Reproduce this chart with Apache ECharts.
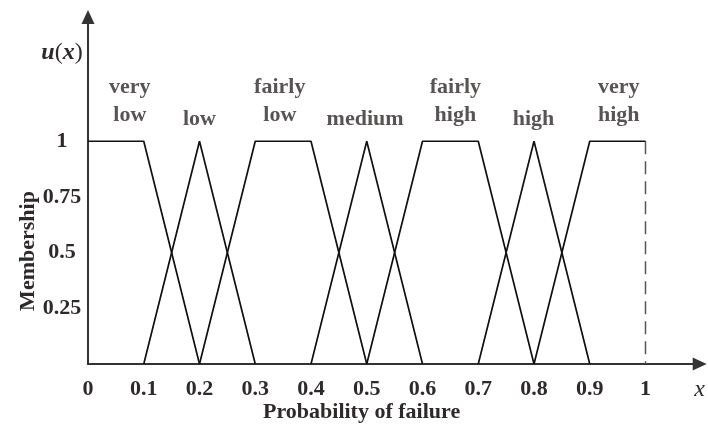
<!DOCTYPE html>
<html>
<head>
<meta charset="utf-8">
<script src="https://cdn.jsdelivr.net/npm/echarts@6/dist/echarts.min.js"></script>
<style>html,body{margin:0;padding:0;background:#fff}#c{width:708px;height:428px}</style>
</head>
<body>
<div id="c"></div>
<script>
// ---- data ----
const categories = ['very\nlow', 'low', 'fairly\nlow', 'medium', 'fairly\nhigh', 'high', 'very\nhigh'];
const mfX = [
  [0, 0.1, 0.2],
  [0.1, 0.2, 0.3],
  [0.2, 0.3, 0.4, 0.5],
  [0.4, 0.5, 0.6],
  [0.5, 0.6, 0.7, 0.8],
  [0.7, 0.8, 0.9],
  [0.8, 0.9, 1.0]
];
const mfY = [
  [1, 1, 0],
  [0, 1, 0],
  [0, 1, 1, 0],
  [0, 1, 0],
  [0, 1, 1, 0],
  [0, 1, 0],
  [0, 1, 1]
];
const boundaryX = [1, 1];
const boundaryY = [1, 0];
const labelX = [0.075, 0.2, 0.344, 0.497, 0.659, 0.799, 0.952];
const labelY = [1.036, 1.036, 1.036, 1.036, 1.036, 1.036, 1.036];
const xTickLabels = ['0', '0.1', '0.2', '0.3', '0.4', '0.5', '0.6', '0.7', '0.8', '0.9', '1'];
const yTickLabels = ['0.25', '0.5', '0.75', '1'];

// ---- chart ----
const font = '"Liberation Serif", "Times New Roman", serif';
const txt = '#2f2929';
const chart = echarts.init(document.getElementById('c'), null, {renderer: 'canvas'});

const series = mfX.map((xs, i) => ({
  type: 'line',
  data: xs.map((x, j) => [x, mfY[i][j]]),
  symbol: 'none',
  lineStyle: {color: '#111', width: 1.7},
  z: 3,
  silent: true
}));
series.push({
  type: 'line',
  data: boundaryX.map((x, j) => [x, boundaryY[j]]),
  symbol: 'none',
  lineStyle: {color: '#555', width: 1.5, type: [13, 7]},
  z: 2,
  silent: true
});
series.push({
  type: 'scatter',
  data: labelX.map((x, i) => ({
    value: [x, labelY[i]],
    name: categories[i],
    label: {offset: categories[i].indexOf('\n') >= 0 ? [0, -4] : [0, 0]}
  })),
  symbolSize: 0,
  label: {
    show: true,
    position: 'top',
    distance: 0,
    formatter: p => p.name,
    fontFamily: font,
    fontWeight: 'bold',
    fontSize: 22,
    lineHeight: 28,
    color: txt,
    align: 'center'
  },
  silent: true
});

function fmtX(v) {
  const k = Math.round(v * 10);
  if (Math.abs(v * 10 - k) < 1e-6 && k >= 0 && k < xTickLabels.length) return xTickLabels[k];
  return '{it|x}';
}
function fmtY(v) {
  const k = Math.round(v * 4);
  if (Math.abs(v * 4 - k) < 1e-6 && k >= 1 && k <= yTickLabels.length) return yTickLabels[k - 1];
  return '';
}

chart.setOption({
  animation: false,
  backgroundColor: '#fff',
  grid: {left: 88, right: 11, top: 21, bottom: 64, containLabel: false},
  xAxis: {
    type: 'value', min: 0, max: 1.09, interval: 0.1,
    splitLine: {show: false},
    axisTick: {show: false},
    axisLine: {show: true, lineStyle: {color: '#333', width: 2}, symbol: ['none', 'triangle'], symbolSize: [13, 14], symbolOffset: [0, 4]},
    axisLabel: {
      formatter: fmtX, margin: 14,
      fontFamily: font, fontWeight: 'bold', fontSize: 22, color: txt,
      showMaxLabel: true,
      rich: {it: {fontFamily: font, fontStyle: 'italic', fontWeight: 'normal', fontSize: 24, color: txt, padding: [0, 0, 0, 8]}}
    }
  },
  yAxis: {
    type: 'value', min: 0, max: 1.54, interval: 0.25,
    splitLine: {show: false},
    axisTick: {show: false},
    axisLine: {show: true, lineStyle: {color: '#333', width: 2}, symbol: ['none', 'triangle'], symbolSize: [13, 14], symbolOffset: [0, 4]},
    axisLabel: {
      formatter: fmtY, margin: 26, align: 'center',
      fontFamily: font, fontWeight: 'bold', fontSize: 22, color: txt
    }
  },
  graphic: [
    {type: 'text', left: 263, top: 401, style: {text: 'Probability of failure', font: 'bold 22px ' + font, fill: txt}},
    {type: 'text', x: 28, y: 251, rotation: Math.PI / 2, style: {text: 'Membership', font: 'bold 22px ' + font, fill: txt, align: 'center', verticalAlign: 'middle'}},
    {type: 'text', x: 62, y: 53, style: {
      text: '{u|u}{p|(}{u|x}{p|)}', align: 'center', verticalAlign: 'middle',
      rich: {
        u: {font: 'italic bold 24px ' + font, fill: txt},
        p: {font: '24px ' + font, fill: txt}
      }
    }}
  ],
  series: series
});
</script>
</body>
</html>
